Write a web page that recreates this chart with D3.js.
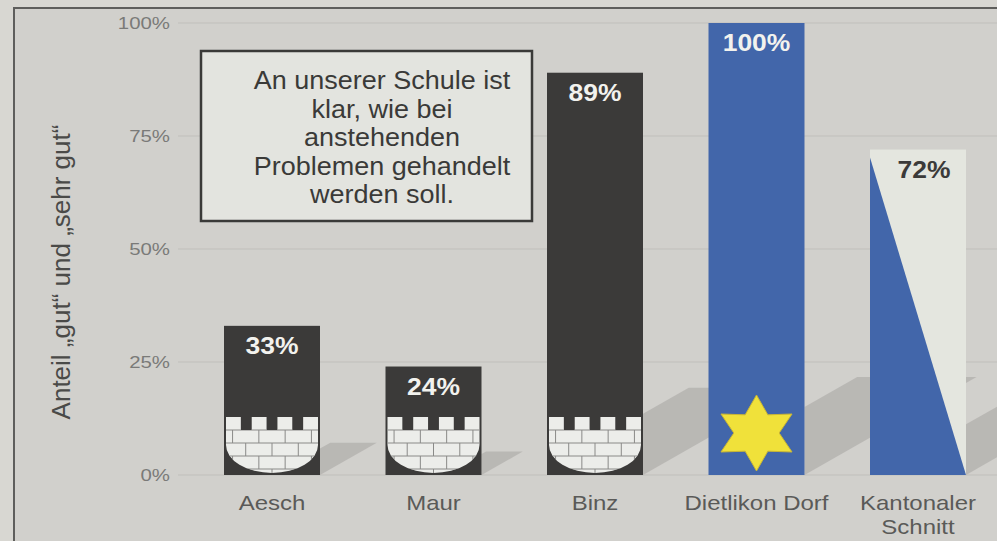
<!DOCTYPE html>
<html><head><meta charset="utf-8">
<script src="https://cdn.jsdelivr.net/npm/d3@7"></script>
<style>
html,body{margin:0;padding:0;background:#d8d7d2;}
svg{display:block;}
text{font-family:"Liberation Sans",Arial,Helvetica,sans-serif;}
</style></head>
<body>
<svg id="chart" width="997" height="541"></svg>
<script>
const categories = ["Aesch", "Maur", "Binz", "Dietlikon Dorf", "Kantonaler\nSchnitt"];
const values = [33, 24, 89, 100, 72];
const yTicks = [0, 25, 50, 75, 100];
const yTitle = "Anteil \u201Egut\u201C und \u201Esehr gut\u201C";
const noteLines = ["An unserer Schule ist", "klar, wie bei", "anstehenden", "Problemen gehandelt", "werden soll."];

const svg = d3.select("#chart");
const W = 997, H = 541;

// frame
svg.append("rect").attr("x", 14).attr("y", 8).attr("width", W).attr("height", H)
  .attr("fill", "#d1d0cc").attr("stroke", "#5e5e5c").attr("stroke-width", 2);

const y = d3.scaleLinear().domain([0, 100]).range([475, 23]);
const x = d3.scaleBand().domain(categories).range([191.25, 998.75])
  .paddingInner(0.4056).paddingOuter(0.2028);
const bw = x.bandwidth();
const base = y(0);

// gridlines
svg.append("g").selectAll("line").data(yTicks).join("line")
  .attr("x1", 178).attr("x2", W).attr("y1", d => y(d)).attr("y2", d => y(d))
  .attr("stroke", "#c0bfbb").attr("stroke-width", 1);

// y tick labels (stretched horizontally like the printed original)
svg.append("g").selectAll("text").data(yTicks).join("text")
  .attr("transform", d => `translate(170,${y(d) + 6}) scale(1.2,1)`)
  .attr("text-anchor", "end")
  .attr("font-size", 17).attr("fill", "#7a7a78").text(d => d + "%");

// y title
svg.append("text").attr("transform", "translate(70,272) rotate(-90)")
  .attr("text-anchor", "middle").attr("font-size", 26).attr("fill", "#4a4a48").text(yTitle);

// shadows (diagonal cast shadows behind the bars)
const k = 0.57;
svg.append("g").attr("opacity", 0.7).selectAll("path").data(categories).join("path")
  .attr("d", (c, i) => {
    const v = values[i];
    const xr = x(c) + bw;
    const L = 1.72 * v;
    const rise = k * L;
    const t = Math.min(rise, 0.62 * v + 6);
    const s = Math.max(0, (rise - t) / k);
    return `M${xr},${base} L${xr + L},${base - rise} L${xr + s},${base - rise} L${xr},${base - t} Z`;
  })
  .attr("fill", "#b0aeab");

// bars
svg.append("g").selectAll("rect").data(categories).join("rect")
  .attr("x", c => x(c)).attr("width", bw)
  .attr("y", (c, i) => y(values[i])).attr("height", (c, i) => base - y(values[i]))
  .attr("fill", (c, i) => i < 3 ? "#3b3a39" : (i === 3 ? "#4266aa" : "#e4e6df"));

// shield with battlements and bricks
const defs = svg.append("defs");
categories.slice(0, 3).forEach((c, i) => {
  const x0 = x(c) + 2, w = bw - 4;
  const topM = base - 58, wallTop = base - 45, sideEnd = base - 30, bottom = base - 2;
  const mw = w * 15 / 93, gw = w * 11 / 93;
  let p = `M${x0},${topM}`;
  for (let m = 0; m < 4; m++) {
    const a = x0 + m * (mw + gw);
    p += ` L${a + mw},${topM} L${a + mw},${m < 3 ? wallTop : topM}`;
    if (m < 3) p += ` L${a + mw + gw},${wallTop} L${a + mw + gw},${topM}`;
  }
  p += ` L${x0 + w},${sideEnd} A${w / 2},${bottom - sideEnd} 0 0 1 ${x0},${sideEnd} Z`;
  const id = "clip" + i;
  defs.append("clipPath").attr("id", id).append("path").attr("d", p);
  const g = svg.append("g");
  g.append("path").attr("d", p).attr("fill", "#ecedea");
  const bg = g.append("g").attr("clip-path", `url(#${id})`)
    .attr("stroke", "#8a8a88").attr("stroke-width", 1).attr("fill", "none");
  const rowH = 13;
  const rows = [wallTop, wallTop + rowH, wallTop + 2 * rowH, wallTop + 3 * rowH];
  rows.forEach((ry, r) => {
    if (r > 0) bg.append("line").attr("x1", x0).attr("x2", x0 + w).attr("y1", ry).attr("y2", ry);
    const brick = w / 3.5;
    const off = r % 2 === 0 ? brick * 0.25 : brick * 0.75;
    for (let bx = x0 + off; bx < x0 + w; bx += brick) {
      bg.append("line").attr("x1", bx).attr("x2", bx).attr("y1", ry).attr("y2", ry + rowH);
    }
  });
  bg.append("line").attr("x1", x0).attr("x2", x0 + w).attr("y1", wallTop).attr("y2", wallTop);
});

// star
(function () {
  const c = categories[3];
  const cx = x(c) + bw / 2, cy = base - 42, R = 38, r = 21;
  const pts = d3.range(12).map(j => {
    const ang = -Math.PI / 2 + j * Math.PI / 6;
    const rr = j % 2 === 0 ? R : r;
    return [cx + rr * 1.08 * Math.cos(ang), cy + rr * Math.sin(ang)];
  });
  svg.append("path").attr("d", "M" + pts.map(p => p.join(",")).join("L") + "Z")
    .attr("fill", "#f0e13a").attr("stroke", "#c9b634").attr("stroke-width", 1);
})();

// triangle
(function () {
  const c = categories[4];
  const x0 = x(c), top = y(values[4]) + 8;
  svg.append("path").attr("d", `M${x0},${top} L${x0 + bw},${base} L${x0},${base} Z`).attr("fill", "#4266aa");
})();

// value labels
svg.append("g").selectAll("text").data(categories).join("text")
  .attr("transform", (c, i) => `translate(${x(c) + bw / 2 + (i === 4 ? 6 : 0)},${y(values[i]) + 28}) scale(1.15,1)`)
  .attr("text-anchor", "middle").attr("font-size", 23).attr("font-weight", "bold")
  .attr("fill", (c, i) => i === 4 ? "#3b3a39" : "#f2f2ee")
  .text((c, i) => values[i] + "%");

// x labels
svg.append("g").selectAll("text").data(categories).join("text")
  .attr("transform", c => `translate(${x(c) + bw / 2},510) scale(1.2,1)`)
  .attr("text-anchor", "middle").attr("font-size", 20).attr("fill", "#5a5a58")
  .each(function (c) {
    const lines = c.split("\n");
    d3.select(this).selectAll("tspan").data(lines).join("tspan")
      .attr("x", 0).attr("dy", (d, j) => j === 0 ? 0 : 24).text(d => d);
  });

// note box
svg.append("rect").attr("x", 201).attr("y", 51).attr("width", 331).attr("height", 170)
  .attr("fill", "#e3e4df").attr("stroke", "#3a3a38").attr("stroke-width", 2.5);
svg.append("g").selectAll("text").data(noteLines).join("text")
  .attr("transform", (d, j) => `translate(382,${89 + j * 28.5}) scale(1.08,1)`)
  .attr("text-anchor", "middle").attr("font-size", 25).attr("fill", "#3a3a38").text(d => d);
</script>
</body></html>
